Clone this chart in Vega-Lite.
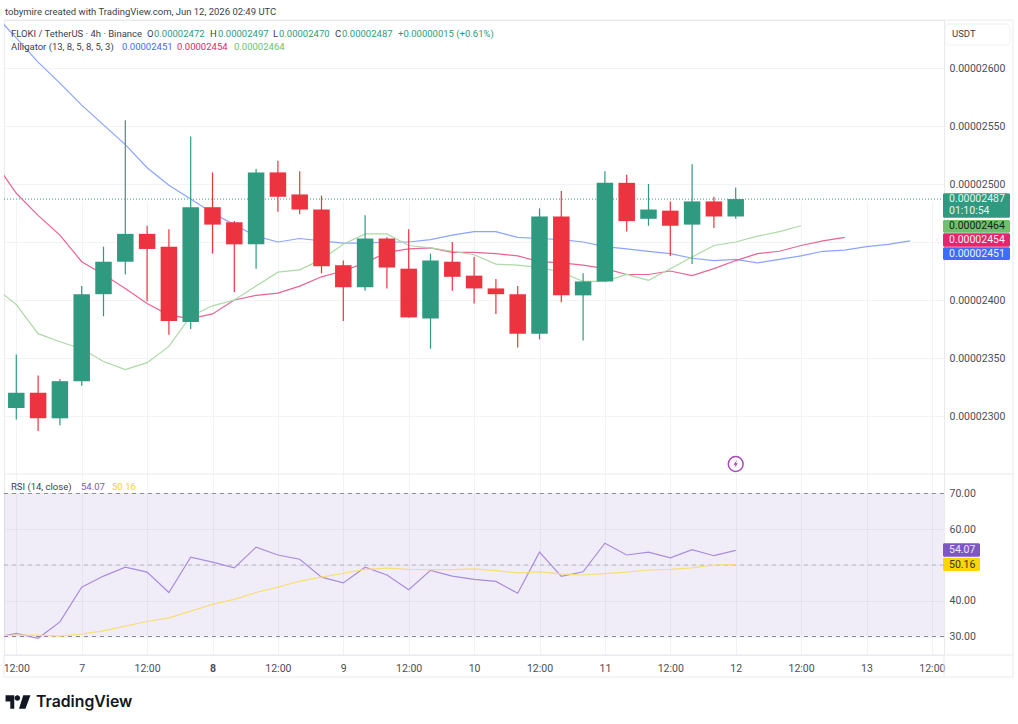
{
  "$schema": "https://vega.github.io/schema/vega-lite/v6.json",
  "description": "FLOKI / TetherUS 4h candles with Alligator and RSI panes",
  "width": 940,
  "height": 635,
  "autosize": "none",
  "padding": {"left": 4, "top": 20, "right": 74, "bottom": 69},
  "background": "white",
  "config": {
    "font": "Roboto",
    "legend": {"disable": true},
    "view": {"stroke": "#e9eaee"},
    "axis": {"title": null, "ticks": false, "domain": false, "gridColor": "#f2f3f6", "labelColor": "#4a4e59", "labelFontSize": 10.5, "labelFont": "Roboto"}
  },
  "data": {"name": "rows"},
  "resolve": {"scale": {"y": "independent"}, "axis": {"y": "independent"}},
  "layer": [
    {
      "layer": [
        {
          "mark": {"type": "line", "color": "#8aa5ff", "strokeWidth": 1.2, "clip": true},
          "encoding": {
            "x": {
              "field": "t",
              "type": "temporal",
              "scale": {"domain": [1780739075235, 1781359992235], "padding": 0},
              "axis": {
                "values": [1780747200000, 1780790400000, 1780833600000, 1780876800000, 1780920000000, 1780963200000, 1781006400000, 1781049600000, 1781092800000, 1781136000000, 1781179200000, 1781222400000, 1781265600000, 1781308800000, 1781352000000],
                "grid": true,
                "labelExpr": "utchours(datum.value) == 12 ? '12:00' : '' + utcdate(datum.value)",
                "labelFontWeight": {"expr": "utcdate(datum.value) == 8 && utchours(datum.value) == 0 ? 'bold' : 'normal'"},
                "labelPadding": 8,
                "labelOverlap": false,
                "labelFlush": false
              }
            },
            "y": {
              "field": "jaw",
              "type": "quantitative",
              "scale": {"domain": [0.0000225, 0.0000264138], "range": [454, 0], "nice": false, "zero": false},
              "axis": {
                "orient": "right",
                "values": [0.000023, 0.0000235, 0.000024, 0.0000245, 0.000025, 0.0000255, 0.000026],
                "format": ".8f",
                "grid": true,
                "labelPadding": 5
              }
            }
          }
        },
        {
          "mark": {"type": "line", "color": "#ea6492", "strokeWidth": 1.2, "clip": true},
          "encoding": {
            "x": {"field": "t", "type": "temporal"},
            "y": {"field": "teeth", "type": "quantitative"}
          }
        },
        {
          "mark": {"type": "line", "color": "#acd9a6", "strokeWidth": 1.2, "clip": true},
          "encoding": {
            "x": {"field": "t", "type": "temporal"},
            "y": {"field": "lips", "type": "quantitative"}
          }
        },
        {
          "data": {"name": "last_price"},
          "mark": {"type": "rule", "color": "#3f9f87", "strokeDash": [1, 2], "strokeWidth": 1},
          "encoding": {"y": {"field": "price", "type": "quantitative"}}
        },
        {
          "mark": {"type": "rule", "strokeWidth": 1.2},
          "encoding": {
            "x": {"field": "t", "type": "temporal"},
            "y": {"field": "low", "type": "quantitative"},
            "y2": {"field": "high"},
            "color": {
              "field": "series",
              "type": "nominal",
              "scale": {
                "domain": ["up", "down", "jaw", "teeth", "lips", "rsi", "rsi_ma", "label"],
                "range": ["#2f9a80", "#ec3440", "#3f6bff", "#e8246a", "#6fbf6f", "#7e57c2", "#fbd505", "#3b3f4a"]
              }
            }
          }
        },
        {
          "mark": {"type": "bar", "size": 16.5},
          "encoding": {
            "x": {"field": "t", "type": "temporal"},
            "y": {"field": "open", "type": "quantitative"},
            "y2": {"field": "close"},
            "color": {"field": "series", "type": "nominal"}
          }
        },
        {
          "data": {"name": "event"},
          "mark": {"type": "point", "shape": "circle", "filled": false, "size": 220, "color": "#ab47bc", "strokeWidth": 1.5, "opacity": 1},
          "encoding": {
            "x": {"field": "at", "type": "temporal"},
            "y": {"field": "price", "type": "quantitative"}
          }
        },
        {
          "data": {"name": "event"},
          "mark": {"type": "point", "shape": "M.2-.6L-.35.1H-.02L-.2.6L.35-.1H.02Z", "filled": true, "size": 170, "color": "#ab47bc", "opacity": 1},
          "encoding": {
            "x": {"field": "at", "type": "temporal"},
            "y": {"field": "price", "type": "quantitative"}
          }
        },
        {
          "data": {"name": "price_tags"},
          "mark": {"type": "rect", "cornerRadius": 1.5},
          "encoding": {
            "x": {"datum": 1781359331685, "type": "temporal"},
            "x2": {"datum": 1781403588535},
            "y": {"field": "top", "type": "quantitative"},
            "y2": {"field": "bottom"},
            "color": {"field": "series", "type": "nominal"}
          }
        },
        {
          "data": {"name": "price_tag_text"},
          "mark": {"type": "text", "align": "left", "baseline": "middle", "fontSize": 10.5, "font": "Roboto"},
          "encoding": {
            "x": {"datum": 1781363294985, "type": "temporal"},
            "y": {"field": "mid", "type": "quantitative"},
            "text": {"field": "label"},
            "color": {"condition": {"test": "datum.series == 'lips'", "value": "#17231a"}, "value": "#e8f3f0"}
          }
        },
        {
          "data": {"name": "price_notes"},
          "mark": {"type": "text", "align": "left", "baseline": "middle", "fontSize": 9.5, "font": "Roboto"},
          "encoding": {
            "x": {"field": "at", "type": "temporal"},
            "y": {"field": "price", "type": "quantitative"},
            "text": {"field": "note"},
            "color": {"field": "series", "type": "nominal"}
          }
        }
      ]
    },
    {
      "layer": [
        {
          "data": {"name": "rsi_band"},
          "mark": {"type": "rect", "color": "#7e57c2", "opacity": 0.11},
          "encoding": {
            "y": {"field": "top", "type": "quantitative", "scale": {"domain": [24.83, 75.45], "range": [635, 454], "nice": false, "zero": false}, "axis": {"orient": "right", "values": [30, 40, 50, 60, 70], "format": ".2f", "grid": true, "labelPadding": 5}},
            "y2": {"field": "bottom"}
          }
        },
        {
          "data": {"name": "levels"},
          "mark": {"type": "rule", "color": "#8a8d97", "strokeDash": [4, 4], "strokeWidth": 1},
          "encoding": {
            "y": {"field": "level", "type": "quantitative"},
            "opacity": {"condition": {"test": "datum.level == 50", "value": 0.55}, "value": 1}
          }
        },
        {
          "mark": {"type": "line", "color": "#a98be0", "strokeWidth": 1.2, "clip": true},
          "encoding": {
            "x": {"field": "t", "type": "temporal"},
            "y": {"field": "rsi", "type": "quantitative"}
          }
        },
        {
          "mark": {"type": "line", "color": "#f8de74", "strokeWidth": 1.2, "clip": true},
          "encoding": {
            "x": {"field": "t", "type": "temporal"},
            "y": {"field": "rsi_ma", "type": "quantitative"}
          }
        },
        {
          "data": {"name": "frame_h"},
          "mark": {"type": "rule", "color": "#e9eaee", "strokeWidth": 1},
          "encoding": {
            "x": {"field": "from", "type": "temporal"},
            "x2": {"field": "to"},
            "y": {"field": "level", "type": "quantitative"}
          }
        },
        {
          "data": {"name": "frame_v"},
          "mark": {"type": "rule", "color": "#e9eaee", "strokeWidth": 1},
          "encoding": {
            "x": {"field": "at", "type": "temporal"},
            "y": {"field": "from", "type": "quantitative"},
            "y2": {"field": "to"}
          }
        },
        {
          "data": {"name": "usdt_box"},
          "mark": {"type": "rect", "fill": "white", "stroke": "#eef0f3", "cornerRadius": 4},
          "encoding": {
            "x": {"field": "from", "type": "temporal"},
            "x2": {"field": "to"},
            "y": {"field": "top", "type": "quantitative"},
            "y2": {"field": "bottom"}
          }
        },
        {
          "data": {"name": "rsi_tags"},
          "mark": {"type": "rect", "cornerRadius": 1.5},
          "encoding": {
            "x": {"datum": 1781359331685, "type": "temporal"},
            "x2": {"datum": 1781383772035},
            "y": {"field": "top", "type": "quantitative"},
            "y2": {"field": "bottom"},
            "color": {"field": "series", "type": "nominal"}
          }
        },
        {
          "data": {"name": "rsi_tags"},
          "mark": {"type": "text", "align": "left", "baseline": "middle", "fontSize": 10.5, "font": "Roboto"},
          "encoding": {
            "x": {"datum": 1781363294985, "type": "temporal"},
            "y": {"field": "mid", "type": "quantitative"},
            "text": {"field": "label"},
            "color": {"condition": {"test": "datum.series == 'rsi_ma'", "value": "#3a3000"}, "value": "#ece6f7"}
          }
        },
        {
          "data": {"name": "rsi_notes"},
          "mark": {"type": "text", "align": "left", "baseline": "middle", "fontSize": 9.5, "font": "Roboto"},
          "encoding": {
            "x": {"field": "at", "type": "temporal"},
            "y": {"field": "rsi", "type": "quantitative"},
            "text": {"field": "note"},
            "color": {"field": "series", "type": "nominal"}
          }
        },
        {
          "data": {"name": "brand"},
          "mark": {"type": "text", "align": "left", "baseline": "middle", "fontSize": 15.8, "fontWeight": 600, "font": "Inter", "color": "#131722"},
          "encoding": {
            "x": {"datum": 1780760212835, "type": "temporal"},
            "y": {"field": "rsi", "type": "quantitative"},
            "text": {"field": "note"}
          }
        },
        {
          "data": {"name": "brand"},
          "mark": {"type": "point", "shape": "M-1-.54H-.3V.54H-.62V-.04H-1ZM-.05-.54a.22.22 0 1 0 .001 0ZM.42-.54H1L.6.54H.08Z", "filled": true, "size": 620, "color": "#131722", "opacity": 1},
          "encoding": {
            "x": {"datum": 1780748322935, "type": "temporal"},
            "y": {"field": "rsi", "type": "quantitative"}
          }
        }
      ]
    }
  ],
  "datasets": {
    "rows": [
      {"t": "2026-06-06T08:00:00Z", "jaw": 0.00002646, "teeth": 0.00002519, "lips": 0.00002411, "rsi": 29.6, "rsi_ma": 30.2},
      {"t": "2026-06-06T12:00:00Z", "series": "up", "open": 0.00002307, "high": 0.00002353, "low": 0.00002297, "close": 0.0000232, "jaw": 0.00002626, "teeth": 0.00002492, "lips": 0.00002396, "rsi": 30.9, "rsi_ma": 30.4},
      {"t": "2026-06-06T16:00:00Z", "series": "down", "open": 0.0000232, "high": 0.00002335, "low": 0.00002287, "close": 0.00002298, "jaw": 0.00002605, "teeth": 0.00002473, "lips": 0.00002371, "rsi": 29.5, "rsi_ma": 30.4},
      {"t": "2026-06-06T20:00:00Z", "series": "up", "open": 0.00002298, "high": 0.00002332, "low": 0.00002292, "close": 0.0000233, "jaw": 0.00002587, "teeth": 0.00002456, "lips": 0.00002364, "rsi": 34.1, "rsi_ma": 30.1},
      {"t": "2026-06-07T00:00:00Z", "series": "up", "open": 0.0000233, "high": 0.00002412, "low": 0.00002326, "close": 0.00002405, "jaw": 0.00002568, "teeth": 0.00002433, "lips": 0.00002358, "rsi": 43.8, "rsi_ma": 30.7},
      {"t": "2026-06-07T04:00:00Z", "series": "up", "open": 0.00002405, "high": 0.00002446, "low": 0.00002386, "close": 0.00002433, "jaw": 0.00002551, "teeth": 0.00002422, "lips": 0.00002347, "rsi": 46.9, "rsi_ma": 31.6},
      {"t": "2026-06-07T08:00:00Z", "series": "up", "open": 0.00002433, "high": 0.00002555, "low": 0.00002422, "close": 0.00002457, "jaw": 0.00002534, "teeth": 0.0000241, "lips": 0.0000234, "rsi": 49.4, "rsi_ma": 32.9},
      {"t": "2026-06-07T12:00:00Z", "series": "down", "open": 0.00002457, "high": 0.00002464, "low": 0.00002399, "close": 0.00002444, "jaw": 0.00002514, "teeth": 0.00002397, "lips": 0.00002346, "rsi": 48, "rsi_ma": 34.2},
      {"t": "2026-06-07T16:00:00Z", "series": "down", "open": 0.00002446, "high": 0.00002461, "low": 0.0000237, "close": 0.00002382, "jaw": 0.00002499, "teeth": 0.00002387, "lips": 0.0000236, "rsi": 42.3, "rsi_ma": 35.2},
      {"t": "2026-06-07T20:00:00Z", "series": "up", "open": 0.00002381, "high": 0.00002541, "low": 0.00002375, "close": 0.0000248, "jaw": 0.00002487, "teeth": 0.00002384, "lips": 0.00002386, "rsi": 52.2, "rsi_ma": 37.1},
      {"t": "2026-06-08T00:00:00Z", "series": "down", "open": 0.0000248, "high": 0.0000251, "low": 0.0000244, "close": 0.00002465, "jaw": 0.00002475, "teeth": 0.00002388, "lips": 0.00002395, "rsi": 50.8, "rsi_ma": 39},
      {"t": "2026-06-08T04:00:00Z", "series": "down", "open": 0.00002467, "high": 0.00002468, "low": 0.00002407, "close": 0.00002448, "jaw": 0.00002465, "teeth": 0.000024, "lips": 0.000024, "rsi": 49.2, "rsi_ma": 40.4},
      {"t": "2026-06-08T08:00:00Z", "series": "up", "open": 0.00002448, "high": 0.00002513, "low": 0.00002427, "close": 0.0000251, "jaw": 0.00002455, "teeth": 0.00002404, "lips": 0.00002412, "rsi": 55, "rsi_ma": 42.3},
      {"t": "2026-06-08T12:00:00Z", "series": "down", "open": 0.0000251, "high": 0.0000252, "low": 0.00002476, "close": 0.00002489, "jaw": 0.0000245, "teeth": 0.00002406, "lips": 0.00002424, "rsi": 52.8, "rsi_ma": 43.8},
      {"t": "2026-06-08T16:00:00Z", "series": "down", "open": 0.00002491, "high": 0.00002511, "low": 0.00002474, "close": 0.00002478, "jaw": 0.00002453, "teeth": 0.00002412, "lips": 0.00002426, "rsi": 51.6, "rsi_ma": 45.5},
      {"t": "2026-06-08T20:00:00Z", "series": "down", "open": 0.00002478, "high": 0.0000249, "low": 0.00002423, "close": 0.00002429, "jaw": 0.00002451, "teeth": 0.0000242, "lips": 0.00002435, "rsi": 46.6, "rsi_ma": 46.6},
      {"t": "2026-06-09T00:00:00Z", "series": "down", "open": 0.0000243, "high": 0.00002434, "low": 0.00002382, "close": 0.00002411, "jaw": 0.00002449, "teeth": 0.00002425, "lips": 0.00002448, "rsi": 45, "rsi_ma": 47.7},
      {"t": "2026-06-09T04:00:00Z", "series": "up", "open": 0.00002411, "high": 0.00002473, "low": 0.00002408, "close": 0.00002453, "jaw": 0.00002449, "teeth": 0.00002432, "lips": 0.00002457, "rsi": 49.4, "rsi_ma": 48.8},
      {"t": "2026-06-09T08:00:00Z", "series": "down", "open": 0.00002453, "high": 0.00002454, "low": 0.0000241, "close": 0.00002428, "jaw": 0.0000245, "teeth": 0.00002441, "lips": 0.00002457, "rsi": 47.2, "rsi_ma": 49.1},
      {"t": "2026-06-09T12:00:00Z", "series": "down", "open": 0.00002427, "high": 0.00002461, "low": 0.00002385, "close": 0.00002385, "jaw": 0.0000245, "teeth": 0.00002444, "lips": 0.00002447, "rsi": 43.1, "rsi_ma": 48.8},
      {"t": "2026-06-09T16:00:00Z", "series": "up", "open": 0.00002384, "high": 0.0000244, "low": 0.00002358, "close": 0.00002434, "jaw": 0.00002452, "teeth": 0.00002445, "lips": 0.00002445, "rsi": 48.5, "rsi_ma": 48.7},
      {"t": "2026-06-09T20:00:00Z", "series": "down", "open": 0.00002433, "high": 0.0000245, "low": 0.00002408, "close": 0.0000242, "jaw": 0.00002456, "teeth": 0.00002441, "lips": 0.00002442, "rsi": 46.9, "rsi_ma": 48.7},
      {"t": "2026-06-10T00:00:00Z", "series": "down", "open": 0.00002421, "high": 0.00002437, "low": 0.00002397, "close": 0.0000241, "jaw": 0.00002459, "teeth": 0.00002441, "lips": 0.00002439, "rsi": 46, "rsi_ma": 48.9},
      {"t": "2026-06-10T04:00:00Z", "series": "down", "open": 0.0000241, "high": 0.00002418, "low": 0.00002388, "close": 0.00002405, "jaw": 0.00002459, "teeth": 0.0000244, "lips": 0.00002431, "rsi": 45.4, "rsi_ma": 48.4},
      {"t": "2026-06-10T08:00:00Z", "series": "down", "open": 0.00002405, "high": 0.00002412, "low": 0.00002359, "close": 0.00002371, "jaw": 0.00002454, "teeth": 0.00002438, "lips": 0.0000243, "rsi": 42.1, "rsi_ma": 47.8},
      {"t": "2026-06-10T12:00:00Z", "series": "up", "open": 0.00002371, "high": 0.00002479, "low": 0.00002366, "close": 0.00002472, "jaw": 0.00002453, "teeth": 0.00002433, "lips": 0.00002428, "rsi": 53.6, "rsi_ma": 48.1},
      {"t": "2026-06-10T16:00:00Z", "series": "down", "open": 0.00002472, "high": 0.00002494, "low": 0.00002398, "close": 0.00002404, "jaw": 0.00002452, "teeth": 0.00002432, "lips": 0.00002424, "rsi": 46.8, "rsi_ma": 47.5},
      {"t": "2026-06-10T20:00:00Z", "series": "up", "open": 0.00002404, "high": 0.00002423, "low": 0.00002365, "close": 0.00002416, "jaw": 0.0000245, "teeth": 0.0000243, "lips": 0.00002416, "rsi": 48.1, "rsi_ma": 47.2},
      {"t": "2026-06-11T00:00:00Z", "series": "up", "open": 0.00002416, "high": 0.00002511, "low": 0.00002416, "close": 0.00002501, "jaw": 0.00002446, "teeth": 0.00002427, "lips": 0.00002416, "rsi": 56.1, "rsi_ma": 47.6},
      {"t": "2026-06-11T04:00:00Z", "series": "down", "open": 0.00002501, "high": 0.00002508, "low": 0.00002459, "close": 0.00002468, "jaw": 0.00002444, "teeth": 0.00002422, "lips": 0.00002422, "rsi": 52.8, "rsi_ma": 48},
      {"t": "2026-06-11T08:00:00Z", "series": "up", "open": 0.0000247, "high": 0.000025, "low": 0.00002464, "close": 0.00002478, "jaw": 0.00002442, "teeth": 0.00002422, "lips": 0.00002417, "rsi": 53.6, "rsi_ma": 48.6},
      {"t": "2026-06-11T12:00:00Z", "series": "down", "open": 0.00002477, "high": 0.00002485, "low": 0.00002438, "close": 0.00002464, "jaw": 0.0000244, "teeth": 0.00002425, "lips": 0.00002427, "rsi": 52, "rsi_ma": 48.8},
      {"t": "2026-06-11T16:00:00Z", "series": "up", "open": 0.00002465, "high": 0.00002517, "low": 0.00002431, "close": 0.00002485, "jaw": 0.00002436, "teeth": 0.00002421, "lips": 0.00002437, "rsi": 54.3, "rsi_ma": 49.2},
      {"t": "2026-06-11T20:00:00Z", "series": "down", "open": 0.00002485, "high": 0.00002489, "low": 0.00002462, "close": 0.00002472, "jaw": 0.00002434, "teeth": 0.00002427, "lips": 0.00002447, "rsi": 52.6, "rsi_ma": 50},
      {"t": "2026-06-12T00:00:00Z", "series": "up", "open": 0.00002472, "high": 0.00002497, "low": 0.0000247, "close": 0.00002487, "jaw": 0.00002435, "teeth": 0.00002434, "lips": 0.0000245, "rsi": 54.07, "rsi_ma": 50.16},
      {"t": "2026-06-12T04:00:00Z", "jaw": 0.00002432, "teeth": 0.0000244, "lips": 0.00002455},
      {"t": "2026-06-12T08:00:00Z", "jaw": 0.00002435, "teeth": 0.00002442, "lips": 0.00002459},
      {"t": "2026-06-12T12:00:00Z", "jaw": 0.00002438, "teeth": 0.00002447, "lips": 0.00002464},
      {"t": "2026-06-12T16:00:00Z", "jaw": 0.00002442, "teeth": 0.00002451},
      {"t": "2026-06-12T20:00:00Z", "jaw": 0.00002443, "teeth": 0.00002454},
      {"t": "2026-06-13T00:00:00Z", "jaw": 0.00002446},
      {"t": "2026-06-13T04:00:00Z", "jaw": 0.00002448},
      {"t": "2026-06-13T08:00:00Z", "jaw": 0.00002451}
    ],
    "last_price": [{"price": 0.00002487}],
    "levels": [{"level": 70}, {"level": 50}, {"level": 30}],
    "rsi_band": [{"top": 70, "bottom": 30}],
    "event": [{"at": "2026-06-12T00:00:00Z", "price": 0.000022586}],
    "price_tags": [
      {"series": "up", "top": 0.00002492, "bottom": 0.00002471},
      {"series": "lips", "top": 0.00002469, "bottom": 0.00002458},
      {"series": "teeth", "top": 0.000024575, "bottom": 0.00002446},
      {"series": "jaw", "top": 0.000024454, "bottom": 0.000024345}
    ],
    "price_tag_text": [
      {"label": "0.00002487", "series": "up", "mid": 0.00002487},
      {"label": "01:10:54", "series": "up", "mid": 0.000024767},
      {"label": "0.00002464", "series": "lips", "mid": 0.000024634},
      {"label": "0.00002454", "series": "teeth", "mid": 0.000024517},
      {"label": "0.00002451", "series": "jaw", "mid": 0.0000244}
    ],
    "price_notes": [
      {"note": "tobymire created with TradingView.com, Jun 12, 2026 02:49 UTC", "at": 1780739735785, "price": 0.000026483, "series": "label"},
      {"note": "FLOKI / TetherUS · 4h · Binance", "at": 1780743699085, "price": 0.000026293, "series": "label"},
      {"note": "O", "at": 1780833533885, "price": 0.000026293, "series": "label"},
      {"note": "0.00002472", "at": 1780838157735, "price": 0.000026293, "series": "up"},
      {"note": "H", "at": 1780875148535, "price": 0.000026293, "series": "label"},
      {"note": "0.00002497", "at": 1780880432935, "price": 0.000026293, "series": "up"},
      {"note": "L", "at": 1780916763185, "price": 0.000026293, "series": "label"},
      {"note": "0.00002470", "at": 1780920726485, "price": 0.000026293, "series": "up"},
      {"note": "C", "at": 1780957717285, "price": 0.000026293, "series": "label"},
      {"note": "0.00002487", "at": 1780962341135, "price": 0.000026293, "series": "up"},
      {"note": "+0.00000015 (+0.61%)", "at": 1780999331935, "price": 0.000026293, "series": "up"},
      {"note": "Alligator (13, 8, 5, 8, 5, 3)", "at": 1780743699085, "price": 0.000026181, "series": "label"},
      {"note": "0.00002451", "at": 1780817020135, "price": 0.000026181, "series": "jaw"},
      {"note": "0.00002454", "at": 1780853350385, "price": 0.000026181, "series": "teeth"},
      {"note": "0.00002464", "at": 1780891001735, "price": 0.000026181, "series": "lips"}
    ],
    "frame_h": [
      {"from": 1780739075235, "to": 1781405570185, "level": 202.4},
      {"from": 1780739075235, "to": 1781405570185, "level": 75.45},
      {"from": 1780739075235, "to": 1781405570185, "level": 24.83},
      {"from": 1780739075235, "to": 1781405570185, "level": 18.67}
    ],
    "frame_v": [
      {"at": 1781405570185, "from": 202.4, "to": 18.67},
      {"at": 1781359992235, "from": 24.83, "to": 18.67},
      {"at": 1780739075235, "from": 24.83, "to": 18.67}
    ],
    "usdt_box": [{"from": 1781360652785, "to": 1781403588535, "top": 201.3, "bottom": 195.4}],
    "rsi_tags": [
      {"label": "54.07", "series": "rsi", "top": 56.07, "bottom": 52.32, "mid": 54.2},
      {"label": "50.16", "series": "rsi_ma", "top": 52.04, "bottom": 48.32, "mid": 50.14}
    ],
    "rsi_notes": [
      {"note": "RSI (14, close)", "at": 1780743699085, "rsi": 71.8, "series": "label"},
      {"note": "54.07", "at": 1780789937585, "rsi": 71.8, "series": "rsi"},
      {"note": "50.16", "at": 1780810414635, "rsi": 71.8, "series": "rsi_ma"},
      {"note": "USDT", "at": 1781365276635, "rsi": 198.5, "series": "label"}
    ],
    "brand": [{"note": "TradingView", "rsi": 11.68}]
  }
}
